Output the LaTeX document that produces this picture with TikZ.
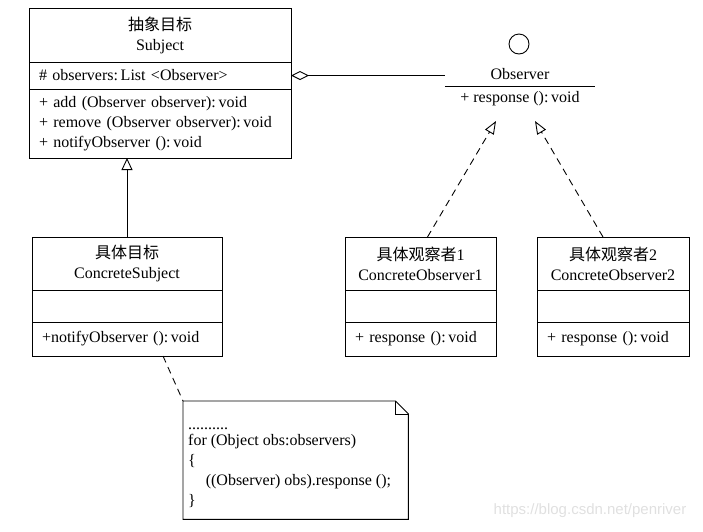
\documentclass[tikz,border=0pt]{standalone}
\usepackage{fontspec}
\setmainfont{Liberation Serif}
\newfontfamily\cjk{Noto Sans CJK SC}
\newfontfamily\marksans{Liberation Sans}
\usepackage{tikz}
\usetikzlibrary{arrows.meta, positioning, calc}

\tikzset{
  umlpart/.style={draw, line width=0.9pt, inner xsep=10pt, inner ysep=0pt, outer sep=0pt, text width=#1, align=left},
  umlhead/.style={umlpart=#1, align=center},
  generalize/.style={-{Triangle[open, length=12pt, width=11pt]}, line width=0.9pt},
  realize/.style={-{Triangle[open, length=13pt, width=10pt]}, line width=0.9pt, dash pattern=on 7pt off 5pt},
  aggregate/.style={{Diamond[open, length=18pt, width=9pt]}-, line width=0.9pt},
}

\begin{document}
\begin{tikzpicture}[x=1pt, y=-1pt, font=\fontsize{16}{20}\selectfont]
\useasboundingbox (0,0) rectangle (703,531);

% Subject class
\node[umlhead=242pt, minimum height=54pt, anchor=north west] (subjhead) at (29,8) {{\cjk 抽象目标}\\Subject};
\node[umlpart=242pt, minimum height=27pt, below=0pt of subjhead] (subjattr) {\# observers:\,List <Observer>};
\node[umlpart=242pt, minimum height=69pt, below=0pt of subjattr] (subjops) {+ add (Observer observer):\,void\\+ remove (Observer observer):\,void\\+ notifyObserver ():\,void};

% Observer interface (lollipop)
\node[draw, circle, line width=0.9pt, minimum size=20pt, inner sep=0pt] (obscircle) at (519,44) {};
\node[minimum width=150pt, minimum height=24pt, inner sep=0pt, anchor=south] (obs) at (520,86) {Observer};
\draw[line width=0.9pt] (obs.south west) -- (obs.south east);
\node[inner sep=0pt, minimum height=24pt, below=0pt of obs] (obsops) {+ response ():\,void};

% ConcreteSubject class
\node[umlhead=170pt, minimum height=53pt, anchor=north west] (cshead) at (32,237) {{\cjk 具体目标}\\ConcreteSubject};
\node[umlpart=170pt, minimum height=32pt, below=0pt of cshead] (csattr) {};
\node[umlpart=170pt, minimum height=34pt, below=0pt of csattr] (csops) {+notifyObserver ():\,void};

% ConcreteObserver classes
\node[umlhead=131pt, minimum height=53pt, anchor=north west] (co1head) at (345,237) {{\cjk 具体观察者}1\\ConcreteObserver1};
\node[umlpart=131pt, minimum height=32pt, below=0pt of co1head] (co1attr) {};
\node[umlpart=131pt, minimum height=34pt, below=0pt of co1attr] (co1ops) {+ response ():\,void};

\node[umlhead=132pt, minimum height=53pt, anchor=north west] (co2head) at (537,237) {{\cjk 具体观察者}2\\ConcreteObserver2};
\node[umlpart=132pt, minimum height=32pt, below=0pt of co2head] (co2attr) {};
\node[umlpart=132pt, minimum height=34pt, below=0pt of co2attr] (co2ops) {+ response ():\,void};

% note
\node[minimum width=225pt, minimum height=118pt, inner sep=0pt, anchor=north west] (note) at (183,401) {};
\draw[line width=0.9pt] (note.north west) -- ($(note.north east)+(-13,0)$) -- ($(note.north east)+(0,13)$)
  -- (note.south east) -- (note.south west) -- cycle;
\draw[line width=0.9pt] ($(note.north east)+(-13,0)$) |- ($(note.north east)+(0,13)$);
\node[inner sep=0pt, align=left, anchor=north west] (notetext) at ($(note.north west)+(5,27)$)
  {..........\\[-4pt]for (Object obs:observers)\\\{\\\hspace{1.1em}((Observer) obs).response ();\\\}};

% relations
\coordinate (tip1) at (496,121);
\coordinate (tip2) at (535,121);
\draw[aggregate] (subjattr.east) -- (subjattr.east -| obs.west);
\draw[generalize] (cshead.north) -- (cshead.north |- subjops.south);
\draw[realize] ($(co1head.north)+(7,0)$) -- (tip1);
\draw[realize] ($(co2head.north)+(-10,0)$) -- (tip2);
\draw[line width=0.9pt, dash pattern=on 7pt off 5pt] ($(csops.south)+(36,0)$) -- (note.north west);

% watermark
\node[font=\fontsize{15}{16}\marksans, text=black!12] (mark) at (590,511) {https://blog.csdn.net/penriver};
\end{tikzpicture}
\end{document}
